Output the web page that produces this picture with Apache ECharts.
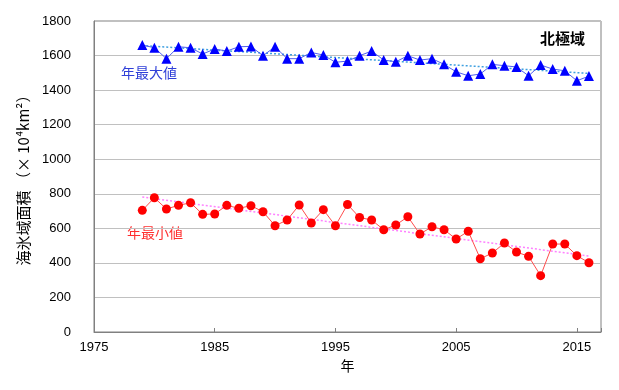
<!DOCTYPE html>
<html>
<head>
<meta charset="utf-8">
<script src="https://cdn.jsdelivr.net/npm/echarts@6/dist/echarts.min.js"></script>
<style>
html,body{margin:0;padding:0;background:#fff;}
#main{width:619px;height:390px;}
</style>
</head>
<body>
<div id="main"></div>
<script>
var years = [1979,1980,1981,1982,1983,1984,1985,1986,1987,1988,1989,1990,1991,1992,1993,1994,1995,1996,1997,1998,1999,2000,2001,2002,2003,2004,2005,2006,2007,2008,2009,2010,2011,2012,2013,2014,2015,2016];
var annualMax = [1661,1645,1582,1651,1645,1609,1638,1626,1651,1653,1599,1651,1582,1582,1618,1603,1561,1568,1599,1626,1574,1564,1599,1574,1582,1549,1506,1483,1493,1549,1541,1534,1483,1545,1522,1512,1454,1481];
var annualMin = [704,777,712,733,748,681,683,733,716,731,696,615,648,735,631,708,615,738,663,648,592,619,667,567,609,592,538,583,424,457,515,463,438,326,509,509,442,401];
var maxTrend = [[1979,1658],[2016,1497]];
var minTrend = [[1979,781],[2016,440]];
var xTickLabels = [1975,1985,1995,2005,2015];
var yTicks = [0,200,400,600,800,1000,1200,1400,1600,1800];

var numFont = "'Liberation Sans Narrow','Arial Narrow','Liberation Sans',sans-serif";
var cjkFont = "'Noto Sans CJK JP',sans-serif";

function pairs(xs, ys){ return xs.map(function(x,i){ return [x, ys[i]]; }); }

var chart = echarts.init(document.getElementById('main'), null, {renderer:'canvas'});
chart.setOption({
  animation:false,
  backgroundColor:'#ffffff',
  grid:{left:94, top:21, right:18, bottom:58, show:true, borderColor:'#808080', borderWidth:1, backgroundColor:'transparent'},
  xAxis:{
    type:'value', min:1975, max:2017, interval:10,
    name:'年', nameLocation:'middle', nameGap:25,
    nameTextStyle:{fontFamily:cjkFont, fontSize:14, color:'#000'},
    axisLine:{show:true, lineStyle:{color:'#808080'}},
    axisTick:{show:true, inside:true, length:4, lineStyle:{color:'#808080'}},
    splitLine:{show:false},
    axisLabel:{
      fontFamily:numFont, fontSize:13, color:'#000', margin:9,
      formatter:function(v){ return xTickLabels.indexOf(v) >= 0 ? String(v) : ''; }
    }
  },
  yAxis:{
    type:'value', min:yTicks[0], max:yTicks[yTicks.length-1], interval:200,
    name:'海氷域面積 （× 10⁴km²）', nameLocation:'middle', nameGap:61, nameRotate:90,
    nameTextStyle:{fontFamily:cjkFont, fontSize:15, color:'#000'},
    axisLine:{show:true, lineStyle:{color:'#808080'}},
    axisTick:{show:false},
    splitLine:{show:true, lineStyle:{color:'#c0c0c0', width:1}},
    axisLabel:{fontFamily:numFont, fontSize:13, color:'#000', margin:23,
      formatter:function(v){ return String(v); }}
  },
  series:[
    {
      type:'line', data:pairs(years, annualMax), symbol:'triangle', symbolSize:10,
      lineStyle:{color:'#4f5ff0', width:1}, itemStyle:{color:'#0000ff'}, z:3
    },
    {
      type:'line', data:pairs(years, annualMin), symbol:'circle', symbolSize:9,
      lineStyle:{color:'#ff4d4d', width:1}, itemStyle:{color:'#ff0000'}, z:3
    },
    {
      type:'line', data:maxTrend, symbol:'none',
      lineStyle:{color:'#3fa0e0', width:1.5, type:[2,2]}, z:2
    },
    {
      type:'line', data:minTrend, symbol:'none',
      lineStyle:{color:'#ff80ff', width:1.5, type:[2,2]}, z:2
    }
  ],
  graphic:[
    {type:'text', left:540, top:31, style:{text:'北極域', fontFamily:cjkFont, fontSize:15, fontWeight:'bold', fill:'#000'}},
    {type:'text', left:121, top:66, style:{text:'年最大値', fontFamily:cjkFont, fontSize:14, fill:'#3040d8'}},
    {type:'text', left:127, top:226, style:{text:'年最小値', fontFamily:cjkFont, fontSize:14, fill:'#ff3030'}}
  ]
});
</script>
</body>
</html>
